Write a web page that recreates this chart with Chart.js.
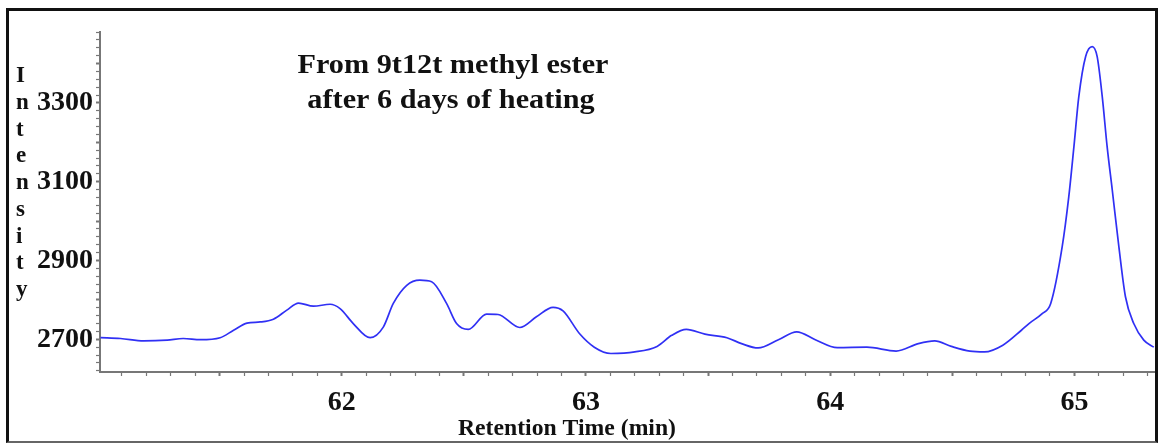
<!DOCTYPE html>
<html>
<head>
<meta charset="utf-8">
<title>Retention time trace</title>
<script src="https://cdn.jsdelivr.net/npm/chart.js@4.4.1/dist/chart.umd.min.js"></script>
<style>
  html, body { margin: 0; padding: 0; background: #fff; }
  #wrap { position: relative; width: 1158px; height: 443px; overflow: hidden; }
  #frame {
    position: absolute; left: 6px; top: 8px; width: 1152px; height: 435px;
    box-sizing: border-box; border: 3px solid #111; border-bottom: 2px solid #666;
    pointer-events: none;
  }
  canvas { position: absolute; left: 0; top: 0; }
</style>
</head>
<body>
<div id="wrap">
  <canvas id="trace" width="1158" height="443"></canvas>
  <div id="frame"></div>
</div>
<script>
// retention time (min) and detector intensity along the trace
const retentionTimes = [
  61.012, 61.094, 61.189, 61.285, 61.351, 61.421, 61.502, 61.557, 61.612, 61.666,
  61.720, 61.775, 61.823, 61.884, 61.952, 61.993, 62.047, 62.116, 62.170, 62.211,
  62.266, 62.320, 62.368, 62.429, 62.470, 62.518, 62.593, 62.640, 62.729, 62.797,
  62.865, 62.906, 62.974, 63.034, 63.102, 63.200, 63.291, 63.351, 63.411, 63.487,
  63.577, 63.637, 63.705, 63.788, 63.863, 63.939, 64.029, 64.150, 64.270, 64.361,
  64.428, 64.496, 64.572, 64.632, 64.707, 64.783, 64.814, 64.868, 64.903, 64.950,
  64.977, 64.998, 65.018, 65.046, 65.073, 65.093, 65.114, 65.134, 65.155, 65.182,
  65.209, 65.243, 65.284, 65.325
]
const intensities = [
  2704, 2702, 2696, 2698, 2702, 2699, 2704, 2723, 2741, 2744,
  2751, 2774, 2792, 2784, 2789, 2778, 2740, 2704, 2731, 2791,
  2837, 2850, 2846, 2791, 2740, 2725, 2764, 2763, 2730, 2757,
  2781, 2772, 2714, 2680, 2664, 2668, 2682, 2710, 2725, 2713,
  2704, 2689, 2678, 2699, 2719, 2699, 2679, 2680, 2670, 2689,
  2696, 2682, 2670, 2668, 2685, 2723, 2740, 2765, 2791, 2935,
  3062, 3189, 3316, 3418, 3443, 3418, 3316, 3189, 3079, 2935,
  2808, 2740, 2698, 2680
]
const xTickLabels = [62, 63, 64, 65]
const yTickLabels = [2700, 2900, 3100, 3300]
const titleLines = ['From 9t12t methyl ester', 'after 6 days of heating']
const xAxisTitle = 'Retention Time (min)'
const yAxisTitle = 'Intensity'

const serif = '"Liberation Serif", "Times New Roman", serif'

// text drawn a little wider than the font's natural width
const wideText = (ctx, text, x, y, stretch) => {
  ctx.save()
  ctx.translate(x, y)
  ctx.scale(stretch, 1)
  ctx.fillText(text, 0, 0)
  ctx.restore()
}

// heading, x title and the letter-stacked y title
const textLayer = {
  id: 'textLayer',
  afterDraw(chart) {
    const ctx = chart.ctx
    ctx.save()
    ctx.fillStyle = '#111'
    ctx.textBaseline = 'alphabetic'
    ctx.textAlign = 'center'
    ctx.font = 'bold 28px ' + serif
    wideText(ctx, titleLines[0], 453, 73, 1.08)
    wideText(ctx, titleLines[1], 451, 108, 1.08)
    ctx.font = 'bold 23px ' + serif
    wideText(ctx, xAxisTitle, 567, 435, 1.03)
    ctx.textAlign = 'left'
    ctx.font = 'bold 23px ' + serif
    yAxisTitle.split('').forEach((ch, i) => ctx.fillText(ch, 16, 82 + i * 26.75))
    ctx.restore()
  },
}

const isMajor = (v, step) => Math.abs(v / step - Math.round(v / step)) < 1e-6

const canvas = document.getElementById('trace')
const chart = new Chart(canvas, {
  type: 'line',
  data: {
    datasets: [
      {
        data: retentionTimes.map((t, i) => ({ x: t, y: intensities[i] })),
        borderColor: '#3030f4',
        borderWidth: 1.7,
        pointRadius: 0,
        cubicInterpolationMode: 'monotone',
        fill: false,
      },
    ],
  },
  options: {
    responsive: false,
    animation: false,
    events: [],
    layout: { padding: { top: 32, right: 3, left: 0, bottom: 0 } },
    scales: {
      x: {
        type: 'linear',
        min: 61.01,
        max: 65.33,
        afterFit: (scale) => { scale.height = 71 },
        border: { color: '#777', width: 2 },
        grid: {
          drawOnChartArea: false,
          tickLength: 4,
          tickColor: '#777',
          tickWidth: (c) => (c.tick && isMajor(c.tick.value, 0.5) ? 2 : 1.2),
        },
        ticks: {
          stepSize: 0.1,
          includeBounds: false,
          autoSkip: false,
          maxRotation: 0,
          padding: 10,
          color: '#111',
          font: { family: serif, size: 28, weight: 'bold' },
          callback: (v) => (xTickLabels.includes(Math.round(v * 10) / 10) ? String(Math.round(v)) : ''),
        },
      },
      y: {
        min: 2617,
        max: 3480,
        afterFit: (scale) => { scale.width = 100 },
        border: { color: '#777', width: 2 },
        grid: {
          drawOnChartArea: false,
          tickLength: 4,
          tickColor: '#777',
          tickWidth: (c) => (c.tick && isMajor(c.tick.value, 100) ? 2 : 1.2),
        },
        ticks: {
          stepSize: 20,
          includeBounds: false,
          autoSkip: false,
          padding: 3,
          color: '#111',
          font: { family: serif, size: 28, weight: 'bold' },
          callback: (v) => (yTickLabels.includes(v) ? String(v) : ''),
        },
      },
    },
    plugins: {
      legend: { display: false },
      tooltip: { enabled: false },
    },
  },
  plugins: [textLayer],
})
</script>
</body>
</html>
